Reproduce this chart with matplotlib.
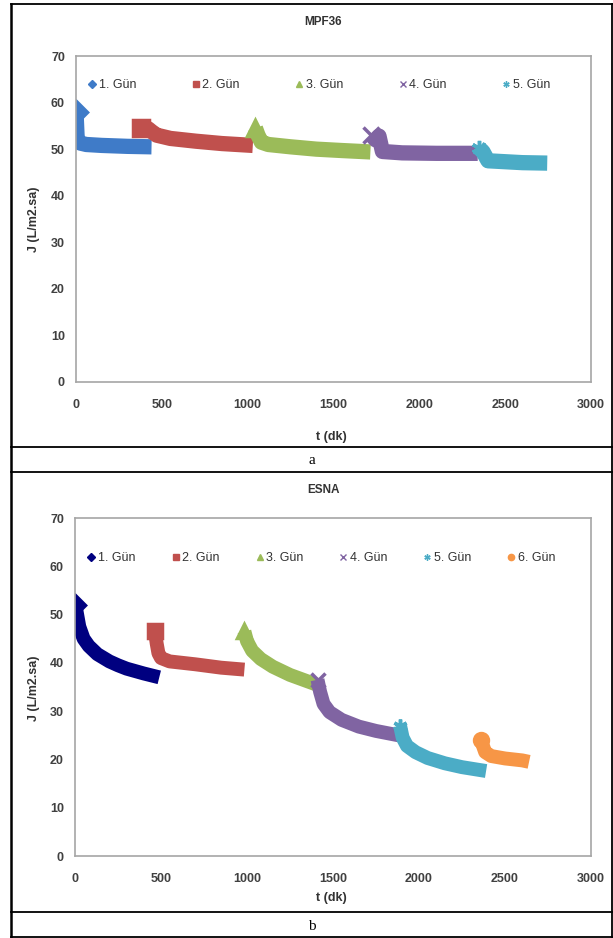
import matplotlib.pyplot as plt
from matplotlib.lines import Line2D
import numpy as np

plt.rcParams['font.family'] = ['Liberation Sans', 'DejaVu Sans']

# MPF36 (a)
mpf_t1 = [0, 3, 6, 10, 25, 60, 150, 300, 440]
mpf_j1 = [58.0, 55.5, 53.0, 51.8, 51.3, 51.0, 50.8, 50.6, 50.5]
mpf_t2 = [380, 420, 440, 470, 550, 700, 850, 1030]
mpf_j2 = [54.5, 54.4, 53.8, 53.0, 52.3, 51.7, 51.2, 50.8]
mpf_t3 = [1045, 1060, 1080, 1120, 1250, 1400, 1550, 1715]
mpf_j3 = [54.5, 53.0, 51.5, 51.0, 50.5, 50.0, 49.7, 49.4]
mpf_t4 = [1720, 1745, 1765, 1785, 1900, 2100, 2340]
mpf_j4 = [53.0, 52.0, 52.8, 49.5, 49.2, 49.1, 49.1]
mpf_t5 = [2345, 2370, 2400, 2500, 2600, 2745]
mpf_j5 = [50.3, 49.5, 47.5, 47.3, 47.1, 47.0]

# ESNA (b)
esna_t1 = [0, 10, 25, 50, 80, 130, 200, 250, 300, 400, 490]
esna_j1 = [52.0, 50.5, 47.5, 45.0, 43.5, 41.8, 40.3, 39.5, 38.8, 37.8, 37.0]
esna_t2 = [465, 475, 485, 500, 550, 700, 850, 985]
esna_j2 = [46.5, 44.0, 42.0, 41.0, 40.3, 39.7, 39.0, 38.6]
esna_t3 = [985, 1000, 1030, 1080, 1150, 1250, 1350, 1420]
esna_j3 = [46.5, 44.5, 42.5, 40.8, 39.2, 37.5, 36.2, 35.3]
esna_t4 = [1410, 1425, 1445, 1480, 1550, 1650, 1750, 1880]
esna_j4 = [36.5, 34.0, 31.5, 29.8, 28.2, 26.8, 25.9, 25.0]
esna_t5 = [1890, 1905, 1930, 1980, 2050, 2150, 2250, 2390]
esna_j5 = [27.0, 24.5, 22.8, 21.5, 20.3, 19.2, 18.4, 17.6]
esna_t6 = [2360, 2370, 2385, 2420, 2500, 2600, 2640]
esna_j6 = [24.0, 23.0, 21.5, 20.7, 20.2, 19.8, 19.5]

labels = ['1. Gün', '2. Gün', '3. Gün', '4. Gün', '5. Gün', '6. Gün']
markers = ['D', 's', '^', 'x', (6, 2, 0), 'o']
mpf_colors = ['#3f7bc8', '#c0504d', '#9bbb59', '#8064a2', '#4bacc6']
esna_colors = ['#000080', '#c0504d', '#9bbb59', '#8064a2', '#4bacc6', '#f79646']

W, H = 613, 938
fig = plt.figure(figsize=(W / 100, H / 100), dpi=100)


def fx(x):
    return x / W


def fy(y):
    return 1 - y / H


def draw_panel(rect, series, colors, title, title_y, leg_y, leg_w, xlab_y, ylab_y, band):
    ax = fig.add_axes(rect)
    for i, (t, j) in enumerate(series):
        ax.plot(t, j, color=colors[i], lw=band, solid_joinstyle='round',
                solid_capstyle='butt', marker=markers[i], markevery=[0],
                ms=band, mec=colors[i], mew=2.5)
    ax.set_xlim(0, 3000)
    ax.set_ylim(0, 70)
    ax.set_xticks(range(0, 3001, 500))
    ax.set_yticks(range(0, 71, 10))
    ax.tick_params(length=0, labelsize=9, labelcolor='#404040')
    ax.tick_params(axis='x', pad=12)
    ax.tick_params(axis='y', pad=8)
    for lab in ax.get_xticklabels() + ax.get_yticklabels():
        lab.set_fontweight('bold')
    for s in ax.spines.values():
        s.set_color('#a6a6a6')
        s.set_linewidth(1.2)
    handles = [Line2D([], [], ls='none', marker=markers[i], color=colors[i],
                      ms=4.5, mew=1) for i in range(len(series))]
    ax.legend(handles, labels[:len(series)], loc='center left',
              bbox_to_anchor=(0.015, leg_y, leg_w, 0.05), mode='expand',
              ncol=len(series), frameon=False, handlelength=0.6,
              handletextpad=0.2, borderaxespad=0, prop={'size': 9},
              labelcolor='#333333')
    fig.text(fx(323), fy(title_y), title, ha='center', va='center',
             fontsize=8.5, fontweight='bold', color='#333333')
    fig.text(fx(331), fy(xlab_y), 't (dk)', ha='center', va='center',
             fontsize=9, fontweight='bold', color='#333333')
    fig.text(fx(34), fy(ylab_y), 'J (L/m2.sa)', ha='center', va='center',
             rotation=90, fontsize=9, fontweight='bold', color='#333333')
    return ax


top_series = [(mpf_t1, mpf_j1), (mpf_t2, mpf_j2), (mpf_t3, mpf_j3),
              (mpf_t4, mpf_j4), (mpf_t5, mpf_j5)]
bot_series = [(esna_t1, esna_j1), (esna_t2, esna_j2), (esna_t3, esna_j3),
              (esna_t4, esna_j4), (esna_t5, esna_j5), (esna_t6, esna_j6)]

draw_panel([fx(76), fy(382), fx(591) - fx(76), fy(56) - fy(382)],
           top_series, mpf_colors, 'MPF36', 22, 0.886, 0.915, 437, 219, 11)
draw_panel([fx(75), fy(856), fx(591) - fx(75), fy(518) - fy(856)],
           bot_series, esna_colors, 'ESNA', 490, 0.857, 0.925, 898, 688, 10)

# table borders around the two panels
for y in [4, 447, 472, 912, 937]:
    fig.add_artist(Line2D([fx(11), fx(613)], [fy(y), fy(y)], color='black', lw=1.3))
fig.add_artist(Line2D([fx(11), fx(11)], [fy(4), fy(937)], color='black', lw=1.8))
fig.add_artist(Line2D([fx(612), fx(612)], [fy(4), fy(937)], color='black', lw=1.3))

fig.text(fx(312), fy(460), 'a', ha='center', va='center', fontsize=11,
         family='Liberation Serif')
fig.text(fx(312), fy(926), 'b', ha='center', va='center', fontsize=11,
         family='Liberation Serif')

fig.savefig('out.png', dpi=100)
